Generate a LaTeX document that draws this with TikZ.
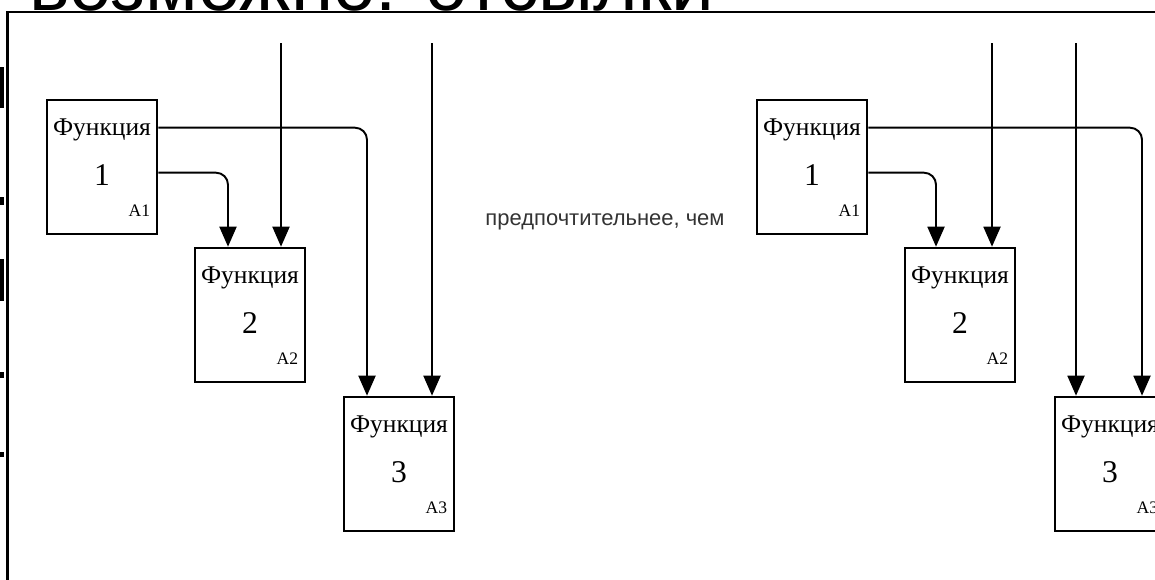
\documentclass[tikz,border=0pt]{standalone}
\usepackage{fontspec}
\setmainfont{Liberation Serif}
\newfontfamily\headfont{Liberation Sans}
\usetikzlibrary{arrows.meta,calc}

\tikzset{
  fbox/.style={draw, line width=1.5pt, minimum width=2.2cm, minimum height=2.68cm, inner sep=0pt},
  fname/.style={font=\fontsize{14.5}{16}\selectfont, inner sep=0pt},
  fnum/.style={font=\fontsize{18}{20}\selectfont, inner sep=0pt},
  fcode/.style={font=\fontsize{10}{12}\selectfont, inner sep=0pt},
  flow/.style={line width=1.1pt, -{Triangle[width=0.34cm,length=0.4cm]}, rounded corners=0.24cm},
  midtext/.style={font=\headfont\fontsize{12.5}{14}\selectfont, text=black!80, inner sep=0pt}
}

\begin{document}
\begin{tikzpicture}[x=0.02cm, y=-0.02cm]
    \useasboundingbox (0,0) rectangle (1155,579);
    \clip (0,0) rectangle (1155,579);

    % заголовок слайда (обрезан сверху)
    \node[anchor=base west, inner sep=0pt, font=\headfont\fontsize{43.5}{50}\selectfont] (title) at (29,10) {возможно: отсылки};
    \fill (0,67) rectangle (4,108);
    \fill (0,197) rectangle (3.5,205);
    \fill (0,259) rectangle (4,301);
    \fill (0,372) rectangle (3.5,378);
    \fill (0,452) rectangle (3.5,457);

    % рамка рисунка
    \draw[line width=1.4pt] (7.5,700) -- (7.5,12) -- (1200,12);

    % левая схема
    \node[fbox] (l1) at (102,167) {};
    \node[fname] (l1n) at ($(l1.center)+(0,-37)$) {Функция};
    \node[fnum] (l1d) at ($(l1.center)+(0,8)$) {1};
    \node[fcode] (l1c) at ($(l1.south east)+(-19,-25)$) {A1};

    \node[fbox] (l2) at (250,315) {};
    \node[fname] (l2n) at ($(l2.center)+(0,-37)$) {Функция};
    \node[fnum] (l2d) at ($(l2.center)+(0,8)$) {2};
    \node[fcode] (l2c) at ($(l2.south east)+(-19,-25)$) {A2};

    \node[fbox] (l3) at (399,464) {};
    \node[fname] (l3n) at ($(l3.center)+(0,-37)$) {Функция};
    \node[fnum] (l3d) at ($(l3.center)+(0,8)$) {3};
    \node[fcode] (l3c) at ($(l3.south east)+(-19,-25)$) {A3};

    \coordinate (lin2) at (281,43);
    \coordinate (lin3) at (432,43);
    \draw[flow] ($(l1.north east)+(0,29)$) -| ($(l3.north)+(-32,0)$);
    \draw[flow] ($(l1.north east)+(0,74)$) -| ($(l2.north)+(-22,0)$);
    \draw[flow] (lin2) -- (lin2 |- l2.north);
    \draw[flow] (lin3) -- (lin3 |- l3.north);

    \node[midtext] (cmp) at (605,222) {предпочтительнее, чем};

    % правая схема
    \node[fbox] (r1) at (812,167) {};
    \node[fname] (r1n) at ($(r1.center)+(0,-37)$) {Функция};
    \node[fnum] (r1d) at ($(r1.center)+(0,8)$) {1};
    \node[fcode] (r1c) at ($(r1.south east)+(-19,-25)$) {A1};

    \node[fbox] (r2) at (960,315) {};
    \node[fname] (r2n) at ($(r2.center)+(0,-37)$) {Функция};
    \node[fnum] (r2d) at ($(r2.center)+(0,8)$) {2};
    \node[fcode] (r2c) at ($(r2.south east)+(-19,-25)$) {A2};

    \node[fbox] (r3) at (1110,464) {};
    \node[fname] (r3n) at ($(r3.center)+(0,-37)$) {Функция};
    \node[fnum] (r3d) at ($(r3.center)+(0,8)$) {3};
    \node[fcode] (r3c) at ($(r3.south east)+(-19,-25)$) {A3};

    \coordinate (rin2) at (992,43);
    \coordinate (rin3) at (1076,43);
    \draw[flow] ($(r1.north east)+(0,29)$) -| ($(r3.north)+(32,0)$);
    \draw[flow] ($(r1.north east)+(0,74)$) -| ($(r2.north)+(-24,0)$);
    \draw[flow] (rin2) -- (rin2 |- r2.north);
    \draw[flow] (rin3) -- (rin3 |- r3.north);
\end{tikzpicture}
\end{document}
